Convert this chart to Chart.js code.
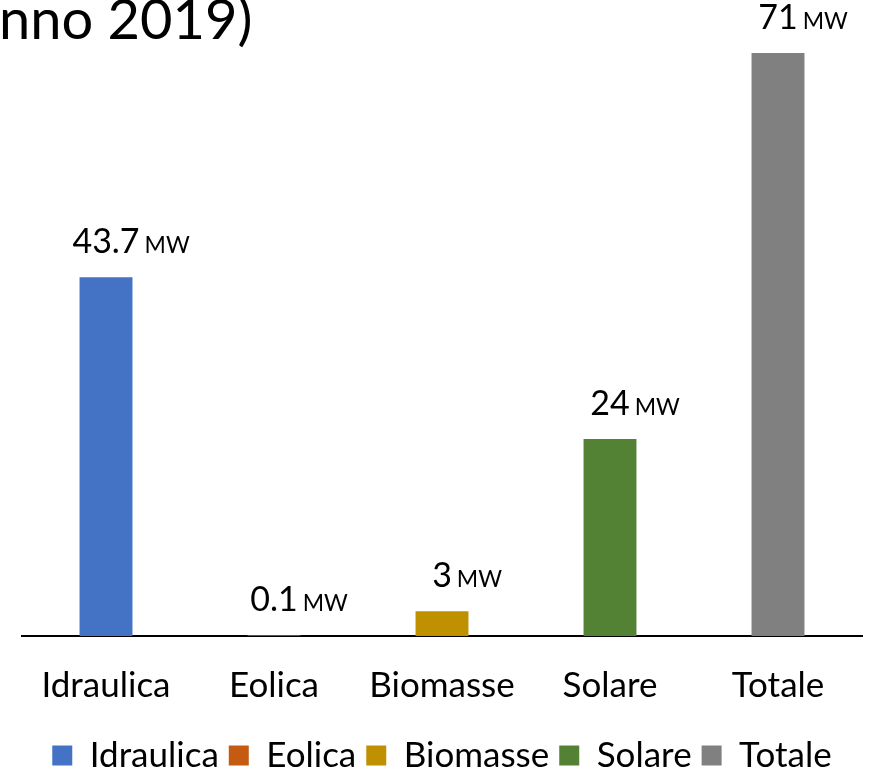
<!DOCTYPE html>
<html>
<head>
<meta charset="utf-8">
<script src="https://cdn.jsdelivr.net/npm/chart.js@4.4.1/dist/chart.umd.min.js"></script>
<style>
  html, body { margin: 0; padding: 0; background: #fff; }
  #wrap { width: 869px; height: 771px; position: relative; }
</style>
</head>
<body>
<div id="wrap"><canvas id="potenzaChart" width="869" height="771"></canvas></div>
<script>
// Dati (potenza installata, anno 2019)
const categorie = ['Idraulica', 'Eolica', 'Biomasse', 'Solare', 'Totale'];
const valoriMW = [43.7, 0.1, 3, 24, 71];
const etichetteValori = ['43.7', '0.1', '3', '24', '71'];
const unita = 'MW';
const titoloVisibile = 'nno 2019)';
const colori = ['#4472C4', '#C55A11', '#BF9000', '#548235', '#808080'];

const FONT = 'Lato, "Open Sans", sans-serif';

// Titolo (tagliato a sinistra come nell'originale) + etichette dei valori
const etichettePlugin = {
    id: 'etichette',
    afterDraw(chart) {
        const ctx = chart.ctx;
        ctx.save();
        ctx.fillStyle = '#000';
        ctx.textBaseline = 'alphabetic';

        ctx.font = '56px ' + FONT;
        ctx.textAlign = 'left';
        ctx.fillText(titoloVisibile, -1, 39);

        const meta = chart.getDatasetMeta(0);
        meta.data.forEach((bar, i) => {
            const y = bar.y - 24;
            ctx.font = '34px ' + FONT;
            ctx.textAlign = 'center';
            const testo = etichetteValori[i];
            const w = ctx.measureText(testo).width;
            ctx.fillText(testo, bar.x, y);
            ctx.font = '23px ' + FONT;
            ctx.textAlign = 'left';
            ctx.fillText(unita, bar.x + w / 2 + 5, y);
        });
        ctx.restore();
    }
};

new Chart(document.getElementById('potenzaChart').getContext('2d'), {
    type: 'bar',
    data: {
        labels: categorie,
        datasets: [{
            label: 'MW',
            data: valoriMW,
            backgroundColor: colori,
            borderWidth: 0,
            categoryPercentage: 1,
            barPercentage: 0.315
        }]
    },
    options: {
        responsive: false,
        animation: false,
        layout: { padding: { left: 22, right: 7, top: 53, bottom: -12 } },
        plugins: {
            tooltip: { enabled: false },
            legend: {
                position: 'bottom',
                labels: {
                    color: '#000',
                    font: { family: FONT, size: 35 },
                    boxWidth: 20,
                    boxHeight: 20,
                    padding: 10,
                    generateLabels(chart) {
                        return chart.data.labels.map((l, i) => ({
                            text: l,
                            fillStyle: colori[i],
                            strokeStyle: colori[i],
                            lineWidth: 0,
                            index: i
                        }));
                    }
                }
            }
        },
        scales: {
            x: {
                grid: { display: false, drawTicks: false },
                border: { display: true, color: '#000', width: 2 },
                ticks: { color: '#000', font: { family: FONT, size: 35 }, padding: 29 },
                afterFit(scale) { scale.height = 92; }
            },
            y: {
                display: false,
                min: 0,
                max: 71
            }
        }
    },
    plugins: [etichettePlugin]
});
</script>
</body>
</html>
